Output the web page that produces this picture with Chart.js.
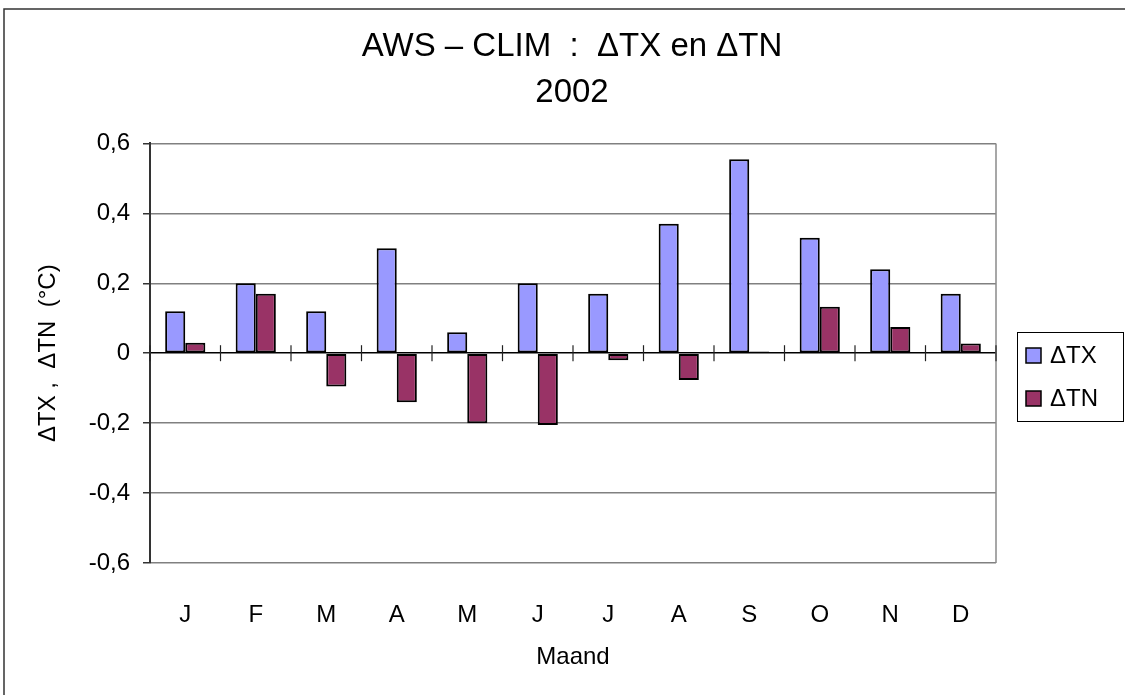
<!DOCTYPE html>
<html>
<head>
<meta charset="utf-8">
<script src="https://cdn.jsdelivr.net/npm/chart.js@4.4.1/dist/chart.umd.min.js"></script>
<style>
  body { margin: 0; background: #fff; }
  #wrap { position: relative; width: 1125px; height: 695px; }
</style>
</head>
<body>
<div id="wrap"><canvas id="myChart" width="1125" height="695"></canvas></div>
<script>
// months (Dutch initials)
const MONTHS = ['J', 'F', 'M', 'A', 'M', 'J', 'J', 'A', 'S', 'O', 'N', 'D'];
// deviation AWS - CLIM, degrees C
const DELTA_TX = [0.12, 0.20, 0.12, 0.30, 0.06, 0.20, 0.17, 0.37, 0.555, 0.33, 0.24, 0.17];
const DELTA_TN = [0.03, 0.17, -0.095, -0.14, -0.20, -0.205, -0.02, -0.077, 0.005, 0.133, 0.075, 0.028];
const SERIES_NAMES = ['\u0394TX', '\u0394TN'];
const Y_MIN = -0.6, Y_MAX = 0.6, Y_STEP = 0.2;

const FONT = '"Liberation Sans", Arial, sans-serif';
const COLORS = ['#9999FF', '#993366'];

// frame, plot border, tick marks on zero line and the legend box
const decor = {
    id: 'decor',
    afterDraw(chart) {
        const ctx = chart.ctx;
        const area = chart.chartArea;
        const xs = chart.scales.x;
        const ys = chart.scales.y;
        ctx.save();
        // outer frame (left + top)
        ctx.strokeStyle = '#333';
        ctx.lineWidth = 1.5;
        ctx.beginPath();
        ctx.moveTo(4, 695);
        ctx.lineTo(4, 9);
        ctx.lineTo(1125, 9);
        ctx.stroke();
        // plot right border
        ctx.strokeStyle = '#8a8a8a';
        ctx.lineWidth = 1.5;
        ctx.beginPath();
        ctx.moveTo(area.right, area.top);
        ctx.lineTo(area.right, area.bottom);
        ctx.stroke();
        // category boundary ticks on the zero line
        const y0 = ys.getPixelForValue(0);
        ctx.strokeStyle = '#222';
        ctx.lineWidth = 1.2;
        for (let i = 0; i <= MONTHS.length; i++) {
            const px = xs.getPixelForValue(i - 0.5);
            ctx.beginPath();
            ctx.moveTo(px, y0 - 8);
            ctx.lineTo(px, y0 + 8);
            ctx.stroke();
        }
        // legend
        const lx = 1017, ly = 332, lw = 106, lh = 89;
        ctx.strokeStyle = '#000';
        ctx.lineWidth = 1;
        ctx.strokeRect(lx + 0.5, ly + 0.5, lw, lh);
        ctx.font = '24px ' + FONT;
        ctx.textBaseline = 'middle';
        ctx.textAlign = 'left';
        chart.data.datasets.forEach((ds, i) => {
            const cy = ly + 24 + i * 43;
            ctx.fillStyle = ds.backgroundColor;
            ctx.fillRect(lx + 9, cy - 8, 15, 15);
            ctx.strokeStyle = '#000';
            ctx.lineWidth = 1.5;
            ctx.strokeRect(lx + 9, cy - 8, 15, 15);
            ctx.fillStyle = '#000';
            ctx.fillText(ds.label, lx + 33, cy);
        });
        ctx.restore();
    }
};

const CTX = document.getElementById('myChart').getContext('2d');
new Chart(CTX, {
    type: 'bar',
    data: {
        labels: MONTHS,
        datasets: SERIES_NAMES.map((name, i) => ({
            label: name,
            data: i === 0 ? DELTA_TX : DELTA_TN,
            backgroundColor: COLORS[i],
            borderColor: '#000',
            borderWidth: 2,
            borderSkipped: false,
            categoryPercentage: 0.57,
            barPercentage: 1.0,
        })),
    },
    options: {
        responsive: false,
        animation: false,
        layout: { padding: { left: 30, right: 11, top: 8, bottom: 19 } },
        plugins: {
            legend: { display: false },
            tooltip: { enabled: false },
            title: {
                display: true,
                text: ['AWS \u2013 CLIM  :  \u0394TX en \u0394TN', '2002'],
                color: '#000',
                font: { family: FONT, size: 33, weight: 'normal', lineHeight: 1.4 },
                padding: { top: 16, bottom: 27 },
            },
        },
        scales: {
            x: {
                grid: { display: false },
                border: { display: false },
                ticks: {
                    color: '#000',
                    font: { family: FONT, size: 24 },
                    padding: 30,
                },
                title: {
                    display: true,
                    text: 'Maand',
                    color: '#000',
                    font: { family: FONT, size: 24 },
                },
                afterFit(scale) { scale.height = 113; },
            },
            y: {
                min: Y_MIN,
                max: Y_MAX,
                ticks: {
                    stepSize: Y_STEP,
                    color: '#000',
                    font: { family: FONT, size: 24 },
                    padding: 13,
                    callback(v) {
                        if (Math.abs(v) < 1e-9) return '0';
                        return v.toFixed(1).replace('.', ',');
                    },
                },
                grid: {
                    color: (c) => (c.tick && Math.abs(c.tick.value) < 1e-9 ? '#000' : '#808080'),
                    lineWidth: 1.5,
                    tickLength: 7,
                    tickColor: '#333',
                },
                border: { display: true, color: '#333', width: 2 },
                title: {
                    display: true,
                    text: '\u0394TX ,  \u0394TN  (\u00B0C)',
                    color: '#000',
                    font: { family: FONT, size: 24 },
                },
                afterFit(scale) { scale.width = 120; },
            },
            // empty right-hand strip that holds the legend area
            side: {
                type: 'linear',
                position: 'right',
                min: Y_MIN,
                max: Y_MAX,
                grid: { drawOnChartArea: false, display: false },
                border: { display: false },
                ticks: { display: false },
                afterFit(scale) { scale.width = 118; },
            },
        },
    },
    plugins: [decor],
});
</script>
</body>
</html>
